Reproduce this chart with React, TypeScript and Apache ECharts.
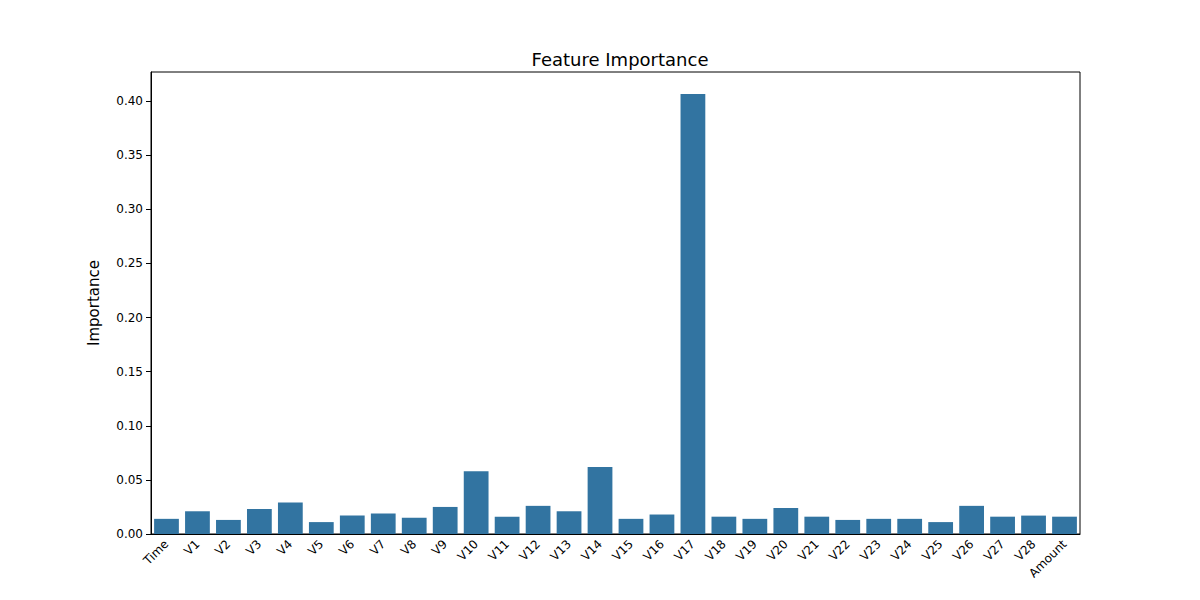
import { useEffect, useRef } from 'react';
import * as echarts from 'echarts';

const features = ['Time', 'V1', 'V2', 'V3', 'V4', 'V5', 'V6', 'V7', 'V8', 'V9', 'V10', 'V11', 'V12', 'V13', 'V14', 'V15', 'V16', 'V17', 'V18', 'V19', 'V20', 'V21', 'V22', 'V23', 'V24', 'V25', 'V26', 'V27', 'V28', 'Amount'];
const importance = [0.014, 0.021, 0.013, 0.023, 0.029, 0.011, 0.017, 0.019, 0.015, 0.025, 0.058, 0.016, 0.026, 0.021, 0.062, 0.014, 0.018, 0.4065, 0.016, 0.014, 0.024, 0.016, 0.013, 0.014, 0.014, 0.011, 0.026, 0.016, 0.017, 0.016];

export default function App() {
  const ref = useRef<HTMLDivElement>(null);

  useEffect(() => {
    if (!ref.current) return;
    const chart = echarts.init(ref.current, undefined, { renderer: 'svg' });
    chart.setOption({
      animation: false,
      textStyle: { fontFamily: 'DejaVu Sans' },
      title: {
        text: 'Feature Importance',
        left: 615, top: 45, textAlign: 'center',
        textStyle: { fontSize: 18, fontWeight: 'normal', color: '#000' },
      },
      grid: {
        left: 151, top: 72, width: 929, height: 462,
        containLabel: false, outerBoundsMode: 'none',
        show: true, borderColor: '#000', borderWidth: 1,
      },
      xAxis: {
        type: 'category',
        data: features,
        name: 'Feature',
        nameLocation: 'middle',
        nameGap: 66,
        nameTextStyle: { fontSize: 15, color: '#000' },
        axisLine: { lineStyle: { color: '#000' } },
        axisTick: { alignWithLabel: true, lineStyle: { color: '#000' } },
        axisLabel: { rotate: 45, color: '#000', fontSize: 12, interval: 0 },
      },
      yAxis: {
        type: 'value',
        min: 0, max: 0.4268, interval: 0.05,
        name: 'Importance',
        nameLocation: 'middle',
        nameGap: 50,
        nameTextStyle: { fontSize: 15, color: '#000' },
        splitLine: { show: false },
        axisLine: { show: true, lineStyle: { color: '#000' } },
        axisTick: { show: true, lineStyle: { color: '#000' } },
        axisLabel: { color: '#000', fontSize: 12, showMaxLabel: false, formatter: (v: number) => v.toFixed(2) },
      },
      series: [{
        type: 'bar',
        data: importance,
        barWidth: '80%',
        itemStyle: { color: '#3274a1' },
      }],
    });
    return () => chart.dispose();
  }, []);

  return <div ref={ref} style={{ width: 1200, height: 600, margin: -8 }} />;
}
